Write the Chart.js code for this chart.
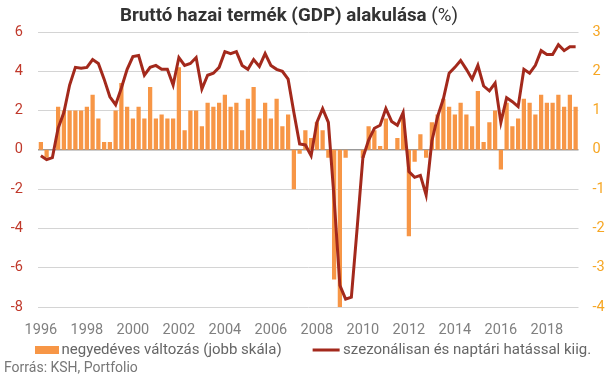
<!DOCTYPE html>
<html><head><meta charset="utf-8">
<script src="https://cdn.jsdelivr.net/npm/chart.js@4/dist/chart.umd.min.js"></script>
<style>
html,body{margin:0;padding:0;background:#fff;}
#wrap{position:relative;width:616px;height:378px;overflow:hidden;background:#fff;}
#c{position:absolute;left:0;top:0;}
#title{position:absolute;top:3px;left:120px;white-space:nowrap;font-family:Roboto,sans-serif;font-size:19px;color:#333;transform-origin:0 0;}
#title b{font-weight:700;}
#src{position:absolute;left:4px;top:359px;font-family:Roboto,sans-serif;font-size:14px;color:#777;white-space:nowrap;}
</style></head>
<body>
<div id="wrap">
<canvas id="c" width="616" height="378"></canvas>
<div id="title"><b>Bruttó hazai termék (GDP) alakulása</b> (%)</div>
<div id="src">Forrás: KSH, Portfolio</div>
</div>
<script>
// Categories: quarters 1996Q1 - 2019Q2
const QUARTERS = [
 "1996Q1","1996Q2","1996Q3","1996Q4","1997Q1","1997Q2","1997Q3","1997Q4",
 "1998Q1","1998Q2","1998Q3","1998Q4","1999Q1","1999Q2","1999Q3","1999Q4",
 "2000Q1","2000Q2","2000Q3","2000Q4","2001Q1","2001Q2","2001Q3","2001Q4",
 "2002Q1","2002Q2","2002Q3","2002Q4","2003Q1","2003Q2","2003Q3","2003Q4",
 "2004Q1","2004Q2","2004Q3","2004Q4","2005Q1","2005Q2","2005Q3","2005Q4",
 "2006Q1","2006Q2","2006Q3","2006Q4","2007Q1","2007Q2","2007Q3","2007Q4",
 "2008Q1","2008Q2","2008Q3","2008Q4","2009Q1","2009Q2","2009Q3","2009Q4",
 "2010Q1","2010Q2","2010Q3","2010Q4","2011Q1","2011Q2","2011Q3","2011Q4",
 "2012Q1","2012Q2","2012Q3","2012Q4","2013Q1","2013Q2","2013Q3","2013Q4",
 "2014Q1","2014Q2","2014Q3","2014Q4","2015Q1","2015Q2","2015Q3","2015Q4",
 "2016Q1","2016Q2","2016Q3","2016Q4","2017Q1","2017Q2","2017Q3","2017Q4",
 "2018Q1","2018Q2","2018Q3","2018Q4","2019Q1","2019Q2"
];
// Tick labels shown on the x axis
const TICK_YEARS = ["1996","1998","2000","2002","2004","2006","2008","2010","2012","2014","2016","2018"];

// Quarterly change (right scale), %
const QOQ = [
 0.2,-0.2,0.0,1.1, 1.0,1.0,1.0,1.0, 1.1,1.4,0.8,0.2, 0.2,1.0,1.7,1.1,
 0.8,1.1,0.8,1.6, 0.8,0.9,0.8,0.8, 2.1,0.5,1.0,1.0, 0.6,1.2,1.1,1.2,
 1.4,1.1,1.2,0.5, 1.3,1.6,0.8,1.2, 0.8,1.3,0.6,0.9, -1.0,-0.1,0.5,0.3,
 0.7,0.5,-0.2,-3.3, -4.0,-0.2,0.0,0.0, -0.2,0.6,0.5,0.1, 0.8,0.0,0.3,0.8,
 -2.2,-0.3,0.4,-0.2, 0.7,0.9,1.3,1.1, 0.9,1.2,0.9,0.6, 1.5,0.2,0.7,1.0,
 -0.5,1.2,0.6,0.8, 1.3,1.2,0.9,1.4, 1.2,1.2,1.4,1.1, 1.4,1.1
];
// Seasonally and calendar adjusted y/y change (left scale), %
const YOY_SA = [
 -0.3,-0.5,-0.4,1.1, 1.9,3.3,4.2,4.15, 4.2,4.6,4.4,3.6, 2.7,2.3,3.15,4.1,
 4.75,4.8,3.8,4.2, 4.3,4.1,4.1,3.3, 4.7,4.3,4.4,4.7, 3.1,3.8,3.9,4.2,
 5.0,4.9,5.0,4.3, 4.1,4.6,4.25,4.9, 4.3,4.1,4.0,3.6, 1.9,0.3,0.25,-0.3,
 1.4,2.1,1.4,-2.5, -6.9,-7.6,-7.5,-4.0, -0.4,0.5,1.1,1.25, 2.1,1.45,1.25,1.9,
 -1.1,-1.4,-1.3,-2.3, 0.45,1.7,2.6,3.9, 4.2,4.55,4.1,3.6, 4.3,3.25,3.0,3.4,
 1.4,2.65,2.45,2.2, 4.1,3.9,4.3,5.05, 4.85,4.85,5.35,5.05, 5.25,5.25
];
const LEGEND_LABELS = ["negyedéves változás (jobb skála)", "szezonálisan és naptári hatással kiig."];

const BAR_COLOR = '#F79646';
const LINE_COLOR = '#A3291C';
const LEFT_TICK_COLOR = '#C0392B';
const RIGHT_TICK_COLOR = '#F6A623';

// title width fit
(function(){
  const t = document.getElementById('title');
  const w = t.getBoundingClientRect().width;
  t.style.transform = 'scaleX(' + (338 / w) + ')';
})();

// legend font size chosen so the legend texts get the reference widths
const mctx = document.createElement('canvas').getContext('2d');
mctx.font = 'normal 14px Roboto';
const T14 = mctx.measureText(LEGEND_LABELS[0]).width + mctx.measureText(LEGEND_LABELS[1]).width;
const FS = Math.round(14 * 469 / T14 * 10) / 10;

const PSW = 54, LP = 0;
function swatch(w, h, cx, cw, ch, color){
  const c = document.createElement('canvas');
  c.width = w; c.height = h;
  const g = c.getContext('2d');
  g.fillStyle = color;
  g.fillRect(cx, (h - ch) / 2, cw, ch);
  return c;
}
// image centred at x+PSW/2, spanning x-5 .. x+PSW+5
const IW = PSW + 10;
const barSw = swatch(IW, 8, IW - 24, 24, 8, BAR_COLOR);
const lineSw = swatch(IW, 4, IW - 28, 27, 3, LINE_COLOR);

const PLOT_LEFT = 38, PLOT_RIGHT = 578.5, PLOT_BOTTOM = 307;
const LEG_CENTER = 350;
const legTop = LEG_CENTER - FS / 2;
const legH = FS + LP + 10;
const padB = 378 - legTop - legH;
const xAxisH = legTop - PLOT_BOTTOM;

new Chart(document.getElementById('c'), {
  data: {
    labels: QUARTERS,
    datasets: [
      { type: 'bar', label: LEGEND_LABELS[0], data: QOQ, yAxisID: 'y1',
        backgroundColor: BAR_COLOR, borderWidth: 0,
        barPercentage: 0.74, categoryPercentage: 1.0, order: 2 },
      { type: 'line', label: LEGEND_LABELS[1], data: YOY_SA, yAxisID: 'y',
        borderColor: LINE_COLOR, borderWidth: 3, pointRadius: 0, tension: 0,
        fill: false, order: 1 }
    ]
  },
  options: {
    responsive: false,
    animation: false,
    layout: { padding: { top: 32, bottom: padB, left: 0, right: 0 } },
    plugins: {
      title: { display: false },
      tooltip: { enabled: false },
      legend: {
        display: true, position: 'bottom', align: 'start',
        labels: {
          usePointStyle: true, pointStyleWidth: PSW, boxHeight: FS, padding: LP,
          font: { family: 'Roboto', size: FS }, color: '#666',
          generateLabels: () => [
            { text: LEGEND_LABELS[0], pointStyle: barSw, fillStyle: BAR_COLOR, strokeStyle: 'rgba(0,0,0,0)', lineWidth: 0, hidden: false, datasetIndex: 0, fontColor: '#666' },
            { text: LEGEND_LABELS[1], pointStyle: lineSw, fillStyle: LINE_COLOR, strokeStyle: 'rgba(0,0,0,0)', lineWidth: 0, hidden: false, datasetIndex: 1, fontColor: '#666' }
          ]
        }
      }
    },
    scales: {
      x: {
        type: 'category', offset: true,
        grid: { display: false, drawTicks: false, tickLength: 0 },
        border: { display: false },
        ticks: {
          autoSkip: false, maxRotation: 0, minRotation: 0, padding: 15,
          color: '#808080', font: { family: 'Roboto', size: 14.5 },
          callback: function(v, i) {
            const q = QUARTERS[i];
            const yr = q.slice(0, 4);
            return (q.endsWith('Q1') && TICK_YEARS.includes(yr)) ? yr : '';
          }
        },
        afterFit: s => { s.height = xAxisH; }
      },
      y: {
        position: 'left', min: -8, max: 6,
        ticks: { stepSize: 2, padding: 15, color: LEFT_TICK_COLOR, font: { family: 'Roboto', size: 14.5 } },
        grid: { drawTicks: false, color: c => c.tick && c.tick.value === 0 ? '#999999' : '#d4d4d4', lineWidth: c => c.tick && c.tick.value === 0 ? 1.5 : 1 },
        border: { display: false },
        afterFit: s => { s.width = PLOT_LEFT; }
      },
      y1: {
        position: 'right', min: -4, max: 3,
        ticks: { stepSize: 1, padding: 14, color: RIGHT_TICK_COLOR, font: { family: 'Roboto', size: 14.5 } },
        grid: { display: false, drawTicks: false },
        border: { display: false },
        afterFit: s => { s.width = 616 - PLOT_RIGHT; }
      }
    }
  }
});
</script>
</body></html>
